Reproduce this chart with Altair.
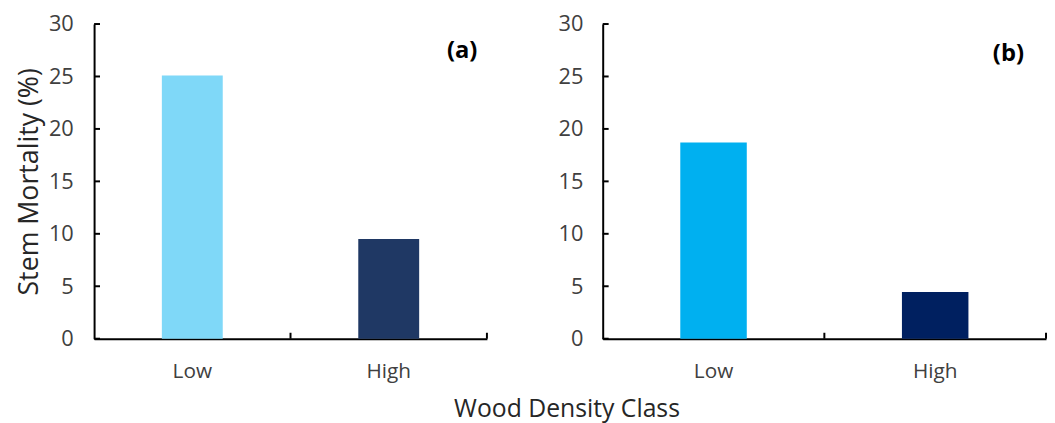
import altair as alt
import pandas as pd

# ---- data ----
classes = ["Low", "High"]
values_a = [25.1, 9.5]
values_b = [18.7, 4.45]
colors_a = ["#7FD8F8", "#1F3864"]
colors_b = ["#00B0F0", "#002060"]
y_ticks = [0, 5, 10, 15, 20, 25, 30]
panel_labels = ["(a)", "(b)"]
y_title = "Stem Mortality (%)"
x_title = "Wood Density Class"

FONT = "Open Sans"
LABEL_COLOR = "#404040"
AXIS_COLOR = "#000000"
H = 318


def panel(values, colors, label, width, bar_band, show_title, label_xy, label_pad):
    df = pd.DataFrame({"cls": classes, "val": values, "col": colors})
    xenc = alt.X(
        "cls:N",
        sort=classes,
        title="",
        scale=alt.Scale(paddingInner=0, paddingOuter=0),
        axis=alt.Axis(
            labelAngle=0, tickSize=0, labelPadding=22, labelFontSize=21,
            labelColor=LABEL_COLOR, labelFont=FONT, domainColor=AXIS_COLOR,
            domainWidth=2,
        ),
    )
    yscale = alt.Scale(domain=[0, 30], nice=False)
    bars = alt.Chart(df).mark_bar(width=alt.RelativeBandSize(bar_band)).encode(
        x=xenc,
        y=alt.Y(
            "val:Q",
            scale=yscale,
            title=y_title if show_title else "",
            axis=alt.Axis(
                values=y_ticks, tickSize=0, labelPadding=label_pad, labelFontSize=22,
                labelColor=LABEL_COLOR, labelFont=FONT, domainColor=AXIS_COLOR,
                domainWidth=2, grid=False, titleFontSize=27, titleFont=FONT,
                titleFontWeight="normal", titleColor="#262626", titlePadding=5,
            ),
        ),
        color=alt.Color("col:N", scale=None),
    )
    # inward y ticks
    ytick_df = pd.DataFrame({"val": y_ticks})
    yt = alt.Chart(ytick_df).mark_rule(color=AXIS_COLOR, strokeWidth=2).encode(
        y=alt.Y("val:Q", scale=yscale),
        x=alt.value(0),
        x2=alt.value(6),
    )
    # upward x ticks at band boundaries
    xt_df = pd.DataFrame({"cls": classes})
    xt = alt.Chart(xt_df).mark_rule(color=AXIS_COLOR, strokeWidth=2).encode(
        x=alt.X("cls:N", sort=classes, bandPosition=1),
        y=alt.value(H - 6),
        y2=alt.value(H),
    )
    lab = alt.Chart(pd.DataFrame({"lab": [label]})).mark_text(
        font=FONT, fontSize=24, fontWeight="bold", color="#000000"
    ).encode(text="lab:N", x=alt.value(label_xy[0]), y=alt.value(label_xy[1]))
    return alt.layer(bars, yt, xt, lab).properties(width=width, height=H)


left = panel(values_a, colors_a, panel_labels[0], 397, 0.31, True, (372, 27), 21)
right = panel(values_b, colors_b, panel_labels[1], 448, 0.30, False, (410, 30), 20)

chart = (
    alt.hconcat(left, right, spacing=70)
    .properties(
        padding={"left": 7, "top": 3, "right": 0, "bottom": 0},
        title=alt.TitleParams(
            text=x_title, orient="bottom", anchor="middle", fontSize=25,
            font=FONT, fontWeight="normal", color="#262626", dx=36, offset=16,
        ),
    )
    .configure_view(strokeWidth=0)
    .resolve_scale(y="independent")
)

chart.save("out.html", embed_options={"renderer": "svg", "actions": False})
